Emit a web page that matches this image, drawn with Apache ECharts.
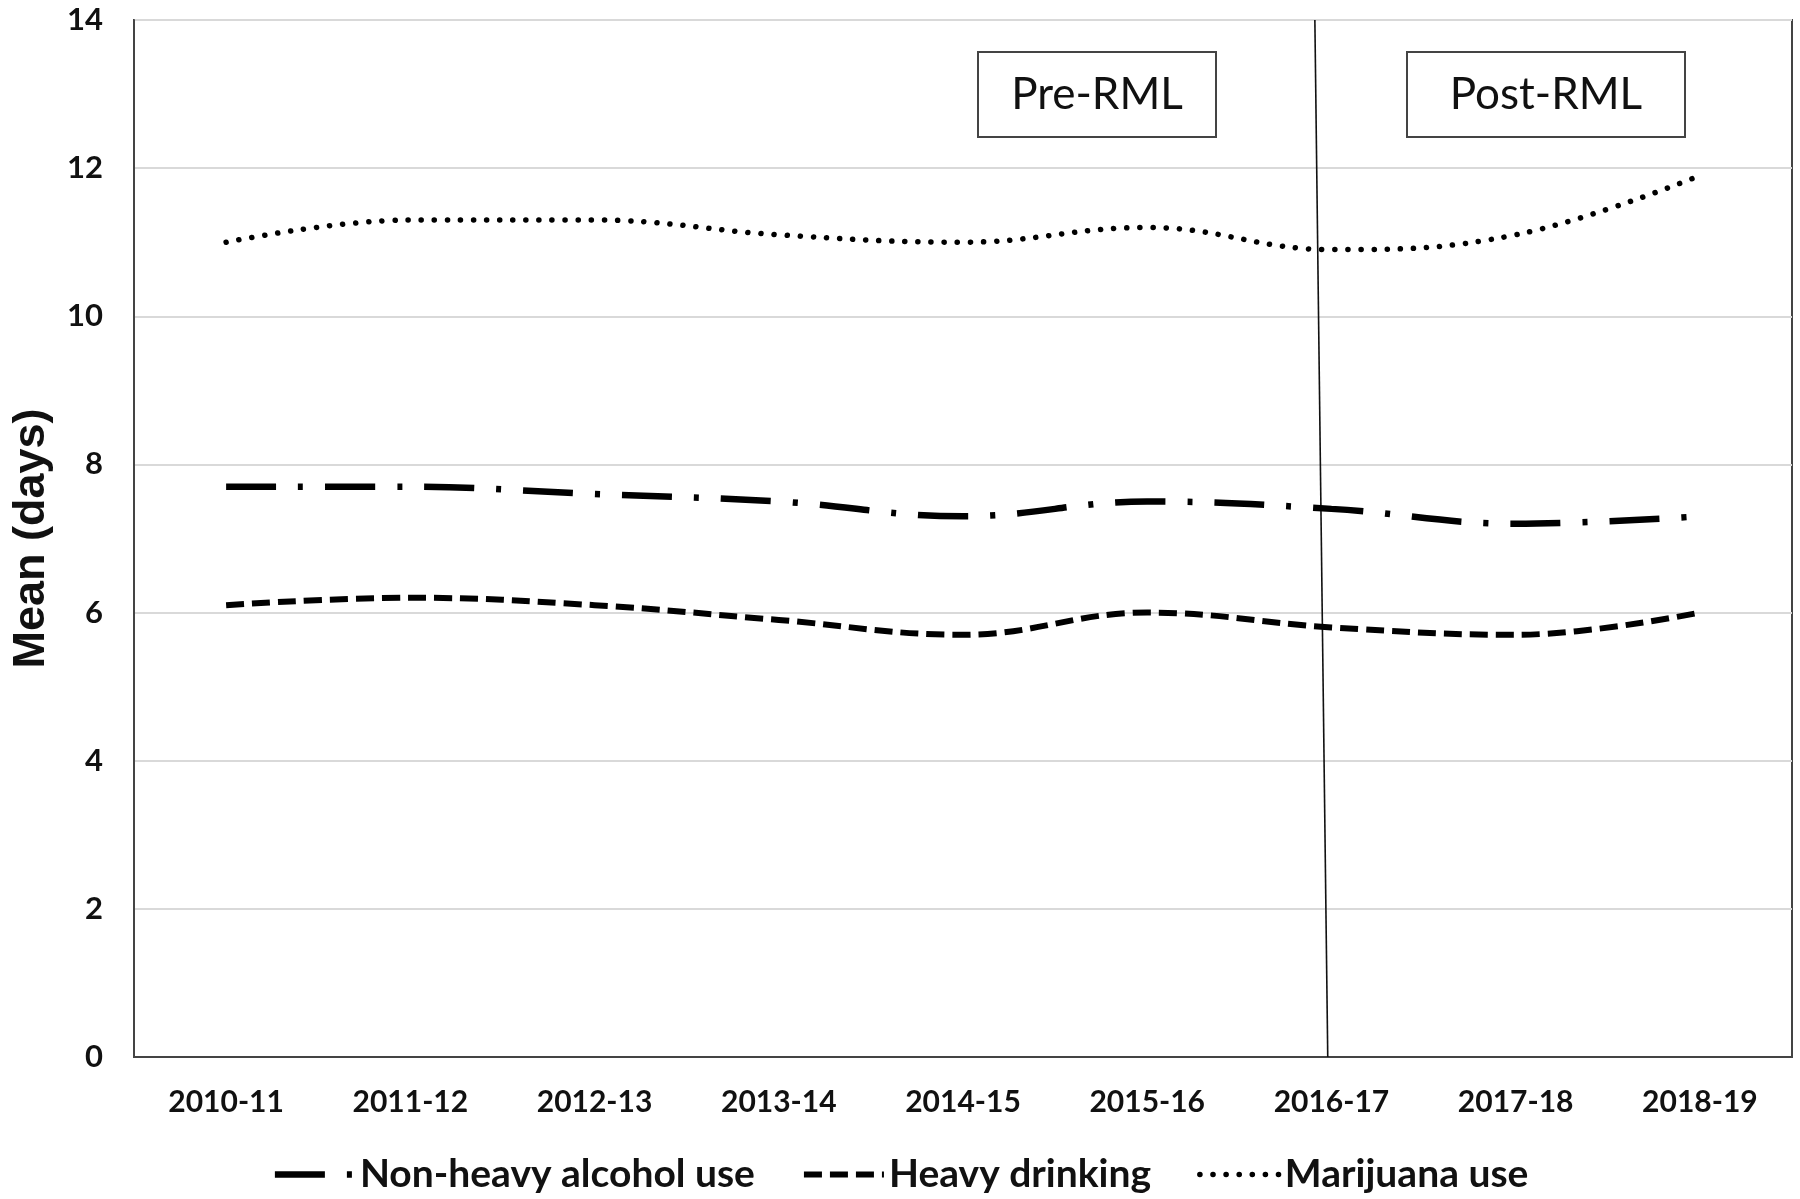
<!DOCTYPE html>
<html>
<head>
<meta charset="utf-8">
<script src="https://cdn.jsdelivr.net/npm/echarts@6/dist/echarts.min.js"></script>
<style>
  html, body { margin: 0; padding: 0; background: #fff; }
  #chart { width: 1800px; height: 1199px; }
</style>
</head>
<body>
<div id="chart"></div>
<script>
// school years on the x axis
const years = ['2010-11', '2011-12', '2012-13', '2013-14', '2014-15', '2015-16', '2016-17', '2017-18', '2018-19'];

// mean days
const nonHeavyAlcohol = [7.7, 7.7, 7.6, 7.5, 7.3, 7.5, 7.4, 7.2, 7.3];
const heavyDrinking = [6.1, 6.2, 6.1, 5.9, 5.7, 6.0, 5.8, 5.7, 6.0];
const marijuana = [11.0, 11.3, 11.3, 11.1, 11.0, 11.2, 10.9, 11.1, 11.9];

// RML divider (slightly slanted in the original), x in category index units
const rmlLine = [[5.91, 14], [5.98, 0]];

const yTicks = { min: 0, max: 14, interval: 2 };

const chart = echarts.init(document.getElementById('chart'));

const labelFont = {
  color: '#111',
  fontFamily: 'Lato',
  fontWeight: 'bold',
  fontSize: 30,
};

const styles = {
  nonHeavy: { color: '#000', width: 6.5, type: [50, 22, 5, 22], cap: 'butt' },
  heavy: { color: '#000', width: 6, type: [18, 8], cap: 'butt' },
  marijuana: { color: '#000', width: 5.5, type: [0.1, 13], cap: 'round' },
};

// boxed period labels
const periodBox = (left, width, text) => ({
  type: 'group',
  left: left,
  top: 51,
  children: [
    {
      type: 'rect',
      shape: { x: 0, y: 0, width: width, height: 85 },
      style: { fill: '#fff', stroke: '#444', lineWidth: 2 },
    },
    {
      type: 'text',
      x: width / 2,
      y: 43,
      style: {
        text: text,
        fill: '#111',
        font: '44px Lato',
        align: 'center',
        verticalAlign: 'middle',
      },
    },
  ],
});

chart.setOption({
  animation: false,
  backgroundColor: '#fff',
  grid: {
    left: 134,
    right: 8,
    top: 20,
    bottom: 142,
    show: true,
    borderColor: '#444',
    borderWidth: 2,
  },
  legend: {
    data: [
      { name: 'Non-heavy alcohol use', itemStyle: { opacity: 0 }, lineStyle: styles.nonHeavy },
      { name: 'Heavy drinking', itemStyle: { opacity: 0 }, lineStyle: styles.heavy },
      { name: 'Marijuana use', itemStyle: { opacity: 0 }, lineStyle: styles.marijuana },
    ],
    left: 'center',
    top: 1150,
    itemWidth: 80,
    itemHeight: 34,
    itemGap: 46,
    textStyle: { ...labelFont, fontSize: 39, color: '#111' },
  },
  xAxis: [
    {
      type: 'category',
      data: years,
      boundaryGap: true,
      axisLine: { lineStyle: { color: '#444', width: 2 } },
      axisTick: { alignWithLabel: true, length: 12, lineStyle: { color: '#444', width: 2 } },
      axisLabel: { ...labelFont, margin: 30 },
      splitLine: { show: false },
    },
    {
      type: 'value',
      min: -0.5,
      max: 8.5,
      show: false,
    },
  ],
  yAxis: {
    type: 'value',
    min: yTicks.min,
    max: yTicks.max,
    interval: yTicks.interval,
    name: 'Mean (days)',
    nameLocation: 'middle',
    nameGap: 80,
    nameTextStyle: {
      color: '#111',
      fontFamily: 'Liberation Sans',
      fontWeight: 'bold',
      fontSize: 45,
    },
    axisLine: { show: true, onZero: false, lineStyle: { color: '#444', width: 2 } },
    axisTick: { show: false },
    axisLabel: { ...labelFont, fontSize: 31, margin: 31 },
    splitLine: { lineStyle: { color: '#d9d9d9', width: 2 } },
  },
  series: [
    {
      name: 'Non-heavy alcohol use',
      type: 'line',
      data: nonHeavyAlcohol,
      smooth: 0.4,
      symbol: 'none',
      lineStyle: styles.nonHeavy,
      itemStyle: { color: '#000' },
    },
    {
      name: 'Heavy drinking',
      type: 'line',
      data: heavyDrinking,
      smooth: 0.4,
      symbol: 'none',
      lineStyle: styles.heavy,
      itemStyle: { color: '#000' },
    },
    {
      name: 'Marijuana use',
      type: 'line',
      data: marijuana,
      smooth: 0.4,
      symbol: 'none',
      lineStyle: styles.marijuana,
      itemStyle: { color: '#000' },
    },
    {
      name: 'RML',
      type: 'line',
      xAxisIndex: 1,
      data: rmlLine,
      symbol: 'none',
      silent: true,
      lineStyle: { color: '#111', width: 1.6 },
      z: 1,
    },
  ],
  graphic: [
    periodBox(977, 238, 'Pre-RML'),
    periodBox(1406, 278, 'Post-RML'),
  ],
});
</script>
</body>
</html>
